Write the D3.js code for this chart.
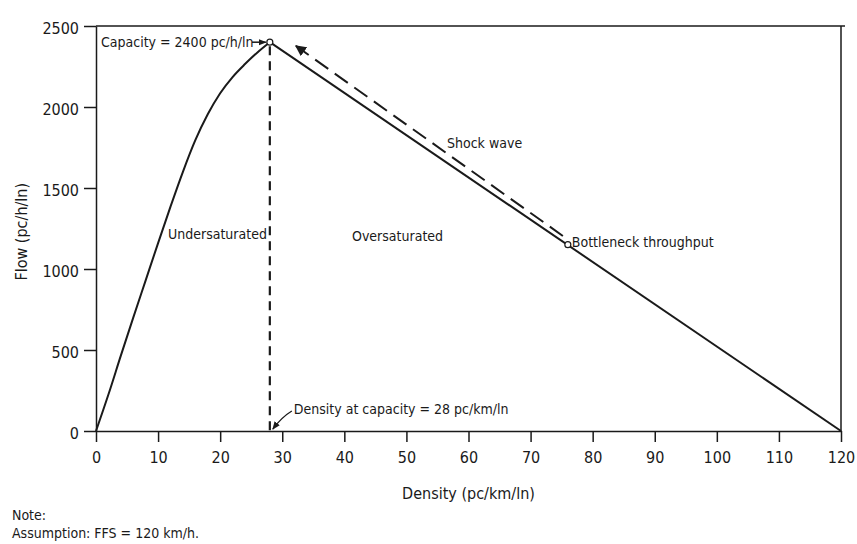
<!DOCTYPE html>
<html><head><meta charset="utf-8">
<script src="https://cdn.jsdelivr.net/npm/d3@7"></script>
<style>
html,body{margin:0;padding:0;background:#fff;}
svg text{font-family:"DejaVu Sans Condensed","DejaVu Sans",sans-serif;font-stretch:condensed;fill:#1a1a1a;}
</style></head>
<body><svg id="chart" width="857" height="544"></svg>
<script>
// ---- data ----
const xTicks = [0,10,20,30,40,50,60,70,80,90,100,110,120];
const yTicks = [0,500,1000,1500,2000,2500];
const underDensity = [0,2,4,6,8,10,12,14,16,18,20,22,24,26,28];
const underFlow    = [0,225,465,700,930,1160,1385,1600,1795,1955,2085,2185,2265,2337,2400];
const overDensity = [28,120];
const overFlow    = [2400,0];
const capacityPoint = [28,2400];
const bottleneckPoint = [76,1150];
const shockDensity = [75.2,32.2];
const shockFlow    = [1204,2377];

const svg = d3.select("#chart");
const W = 857, H = 544;
const m = {left:96, right:16, top:26, bottom:113};
const x = d3.scaleLinear().domain([0,120]).range([m.left, W-m.right]);
const y = d3.scaleLinear().domain([0,2500]).range([H-m.bottom, m.top]);
const ink = "#1a1a1a";

// frame (top and right)
svg.append("line").attr("x1",x(0)).attr("x2",x(120)+4).attr("y1",y(2500)).attr("y2",y(2500))
  .attr("stroke",ink).attr("stroke-width",1.5);
svg.append("line").attr("x1",x(120)).attr("x2",x(120)).attr("y1",y(2500)).attr("y2",y(0))
  .attr("stroke",ink).attr("stroke-width",1.5);

// axes
const xa = svg.append("g").attr("transform",`translate(0,${y(0)})`)
  .call(d3.axisBottom(x).tickValues(xTicks).tickSize(11).tickSizeOuter(0).tickPadding(10).tickFormat(d3.format("d")));
const ya = svg.append("g").attr("transform",`translate(${x(0)},0)`)
  .call(d3.axisLeft(y).tickValues(yTicks).tickSize(12).tickSizeOuter(0).tickPadding(5).tickFormat(d3.format("d")));
[xa,ya].forEach(g=>{
  g.selectAll("path,line").attr("stroke",ink).attr("stroke-width",1.5);
  g.selectAll("text").style("font-size","16px").attr("fill",ink);
});
ya.selectAll("text").attr("dy","0.45em");

// axis titles
svg.append("text").attr("x",(x(0)+x(120))/2).attr("y",499).attr("text-anchor","middle")
  .style("font-size","16px").text("Density (pc/km/ln)");
svg.append("text").attr("transform",`translate(27,${y(1230)}) rotate(-90)`).attr("text-anchor","middle")
  .style("font-size","16px").text("Flow (pc/h/ln)");

// note
svg.append("text").attr("x",12).attr("y",520).style("font-size","14px").text("Note:");
svg.append("text").attr("x",12).attr("y",538).style("font-size","14px").text("Assumption: FFS = 120 km/h.");

// vertical dashed line at capacity density
svg.append("line").attr("x1",x(capacityPoint[0])).attr("x2",x(capacityPoint[0]))
  .attr("y1",y(capacityPoint[1])+4).attr("y2",y(0))
  .attr("stroke",ink).attr("stroke-width",2.2).attr("stroke-dasharray","9,6");

// curves
const under = underDensity.map((d,i)=>[d,underFlow[i]]);
svg.append("path").datum(under).attr("d",d3.line().x(d=>x(d[0])).y(d=>y(d[1])).curve(d3.curveMonotoneX))
  .attr("fill","none").attr("stroke",ink).attr("stroke-width",2);
const over = overDensity.map((d,i)=>[d,overFlow[i]]);
svg.append("path").datum(over).attr("d",d3.line().x(d=>x(d[0])).y(d=>y(d[1])))
  .attr("fill","none").attr("stroke",ink).attr("stroke-width",2);

// markers
const defs = svg.append("defs");
defs.append("marker").attr("id","arr").attr("viewBox","0 0 10 10").attr("refX",9).attr("refY",5)
  .attr("markerWidth",8).attr("markerHeight",8).attr("markerUnits","userSpaceOnUse").attr("orient","auto")
  .append("path").attr("d","M0,1 L10,5 L0,9 Z").attr("fill",ink);
defs.append("marker").attr("id","arrBig").attr("viewBox","0 0 10 10").attr("refX",9).attr("refY",5)
  .attr("markerWidth",11).attr("markerHeight",11).attr("markerUnits","userSpaceOnUse").attr("orient","auto")
  .append("path").attr("d","M0,0 L10,5 L0,10 Z").attr("fill",ink);

// shock wave dashed arrow
const shock = shockDensity.map((d,i)=>[d,shockFlow[i]]);
svg.append("path").datum(shock).attr("d",d3.line().x(d=>x(d[0])).y(d=>y(d[1])))
  .attr("fill","none").attr("stroke",ink).attr("stroke-width",2).attr("stroke-dasharray","16,8")
  .attr("marker-end","url(#arrBig)");

// capacity label with arrow
const cx = x(capacityPoint[0]), cy = y(capacityPoint[1]);
svg.append("text").attr("x",101).attr("y",cy+5).style("font-size","14px").text("Capacity = 2400 pc/h/ln");
svg.append("line").attr("x1",252).attr("x2",cx-4).attr("y1",cy).attr("y2",cy)
  .attr("stroke",ink).attr("stroke-width",1.5).attr("marker-end","url(#arr)");

// circles
[capacityPoint,bottleneckPoint].forEach(p=>{
  svg.append("circle").attr("cx",x(p[0])).attr("cy",y(p[1])).attr("r",3)
    .attr("fill","#fff").attr("stroke",ink).attr("stroke-width",1.2);
});

// density at capacity leader
svg.append("path").attr("d",`M${cx+22},${y(0)-20} Q${cx+12},${y(0)-14} ${cx+3},${y(0)-2}`)
  .attr("fill","none").attr("stroke",ink).attr("stroke-width",1.3).attr("marker-end","url(#arr)");
svg.append("text").attr("x",cx+24).attr("y",y(0)-17).style("font-size","14px")
  .text("Density at capacity = 28 pc/km/ln");

// region labels
svg.append("text").attr("x",168).attr("y",239).style("font-size","14px").text("Undersaturated");
svg.append("text").attr("x",352).attr("y",241).style("font-size","14px").text("Oversaturated");
svg.append("text").attr("x",447).attr("y",148).style("font-size","14px").text("Shock wave");
svg.append("text").attr("x",x(bottleneckPoint[0])+4).attr("y",y(bottleneckPoint[1])+2).style("font-size","14px").text("Bottleneck throughput");
</script></body></html>
